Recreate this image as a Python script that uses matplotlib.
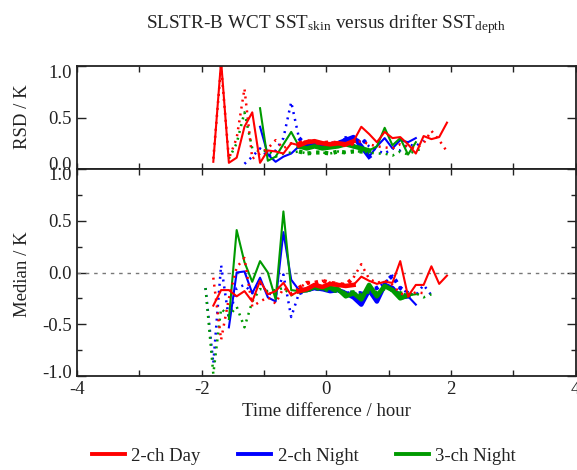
import numpy as np
import matplotlib
matplotlib.use("Agg")
import matplotlib.pyplot as plt
from matplotlib.lines import Line2D
from matplotlib.ticker import FixedLocator, MultipleLocator
import matplotlib.transforms as mtransforms

nan = np.nan

# ---------------- data ----------------
time_bins = [-1.9375, -1.8125, -1.6875, -1.5625, -1.4375, -1.3125, -1.1875, -1.0625,
             -0.9375, -0.8125, -0.6875, -0.5625, -0.4375, -0.3125, -0.1875, -0.0625,
             0.0625, 0.1875, 0.3125, 0.4375, 0.5625, 0.6875, 0.8125, 0.9375,
             1.0625, 1.1875, 1.3125, 1.4375, 1.5625, 1.6875, 1.8125, 1.9375]

series_names = ["2-ch Day", "2-ch Night", "3-ch Night"]

# RSD (top panel) - solid
rsd_day = [nan, 0.07, 1.05, 0.06, 0.11, 0.41, 0.55, 0.06, 0.18, 0.17, 0.15, 0.25,
           0.23, 0.26, 0.27, 0.25, 0.24, 0.25, 0.24, 0.27, 0.41, 0.34, 0.26, 0.36,
           0.30, 0.31, 0.24, 0.15, 0.32, 0.29, 0.31, 0.45]
rsd_night2 = [nan, nan, nan, nan, nan, nan, nan, 0.41, 0.14, 0.07, 0.12, 0.15,
              0.22, 0.24, 0.25, 0.23, 0.24, 0.25, 0.28, 0.31, 0.22, 0.12, 0.22, 0.30,
              0.20, 0.28, 0.26, 0.30, nan, nan, nan, nan]
rsd_night3 = [nan, nan, nan, nan, nan, nan, nan, 0.59, 0.08, 0.12, 0.24, 0.36,
              0.22, 0.20, 0.22, 0.20, 0.21, 0.22, 0.24, 0.22, 0.20, 0.18, 0.22, 0.40,
              0.23, 0.30, 0.14, 0.26, nan, nan, nan, nan]
# RSD (top panel) - dotted
rsd_day_alt = [nan, 0.10, 1.00, 0.10, 0.30, 0.78, 0.10, 0.15, 0.20, 0.28, 0.20, 0.25,
               0.25, 0.27, 0.26, 0.25, 0.26, 0.25, 0.23, 0.25, 0.27, 0.24, 0.22, 0.21,
               0.20, 0.24, 0.22, 0.20, 0.25, 0.37, 0.28, 0.17]
rsd_night2_alt = [nan, nan, nan, nan, nan, 0.05, 0.12, 0.20, 0.12, 0.18, 0.30, 0.65,
                  0.30, 0.22, 0.24, 0.22, 0.23, 0.24, 0.30, 0.22, 0.30, 0.22, 0.18, 0.15,
                  0.20, 0.18, 0.24, 0.22, 0.28, nan, nan, nan]
rsd_night3_alt = [nan, nan, nan, 0.10, 0.25, 0.55, 0.20, 0.17, 0.18, 0.12, 0.15, 0.16,
                  0.17, 0.15, 0.16, 0.16, 0.15, 0.17, 0.16, 0.17, 0.17, 0.16, 0.15, 0.15,
                  0.13, 0.17, 0.14, 0.18, 0.20, nan, nan, nan]

# Median (bottom panel) - solid
med_day = [nan, -0.32, -0.17, -0.17, -0.23, -0.18, -0.28, -0.08, -0.21, -0.18, -0.10, -0.22,
           -0.18, -0.16, -0.12, -0.14, -0.11, -0.12, -0.13, -0.12, -0.04, -0.08, -0.11, -0.09,
           -0.10, 0.11, -0.23, -0.12, -0.12, 0.06, -0.11, -0.03]
med_night2 = [nan, nan, nan, -0.53, 0.00, 0.01, -0.20, -0.05, -0.24, -0.28, 0.39, -0.07,
              -0.17, -0.17, -0.15, -0.16, -0.18, -0.17, -0.20, -0.24, -0.31, -0.17, -0.28, -0.12,
              -0.15, -0.24, -0.23, -0.31, nan, nan, nan, nan]
med_night3 = [nan, nan, nan, -0.45, 0.41, 0.10, -0.09, 0.11, 0.00, -0.26, 0.59, -0.17,
              -0.18, -0.17, -0.14, -0.15, -0.15, -0.16, -0.23, -0.20, -0.26, -0.12, -0.23, -0.13,
              -0.17, -0.25, -0.22, -0.21, nan, nan, nan, nan]
# Median (bottom panel) - dotted
med_day_alt = [nan, -0.05, -0.65, -0.25, 0.05, 0.14, -0.33, -0.28, -0.24, -0.30, -0.15, -0.20,
               -0.15, -0.10, -0.10, -0.08, -0.10, -0.11, -0.12, -0.05, 0.08, -0.06, -0.10, -0.08,
               -0.12, -0.20, -0.23, -0.19, -0.20, nan, nan, nan]
med_night2_alt = [-0.15, -0.88, 0.07, -0.45, -0.15, -0.12, -0.20, -0.10, -0.20, -0.22, -0.02, -0.43,
                  -0.20, -0.17, -0.15, -0.17, -0.16, -0.18, -0.19, -0.20, -0.20, -0.18, -0.15, -0.10,
                  -0.03, -0.15, -0.20, -0.22, -0.12, -0.22, nan, nan]
med_night3_alt = [-0.15, -0.98, -0.35, -0.42, -0.33, -0.53, -0.28, -0.16, -0.18, -0.17, -0.15, -0.22,
                  -0.18, -0.17, -0.15, -0.16, -0.17, -0.18, -0.20, -0.19, -0.22, -0.18, -0.20, -0.15,
                  -0.17, -0.20, -0.22, -0.20, -0.24, -0.21, nan, nan]

x_ticks = [-4, -2, 0, 2, 4]
rsd_ticks = [0.0, 0.5, 1.0]
med_ticks = [-1.0, -0.5, 0.0, 0.5, 1.0]

# ---------------- style ----------------
plt.rcParams["font.family"] = ["Liberation Serif", "DejaVu Serif"]
plt.rcParams["mathtext.fontset"] = "custom"
plt.rcParams["mathtext.rm"] = "Liberation Serif"
plt.rcParams["mathtext.it"] = "Liberation Serif:italic"

colors = {"2-ch Day": "#ff0000", "2-ch Night": "#0000ff", "3-ch Night": "#009a00"}
thick_top = {"2-ch Day": (-0.5, 0.45), "2-ch Night": (-0.5, 0.75), "3-ch Night": (-0.5, 0.75)}
thick_bot = {"2-ch Day": (-0.5, 0.45), "2-ch Night": (-0.5, 1.35), "3-ch Night": (-0.5, 1.35)}

W, H = 577, 470
fig = plt.figure(figsize=(W / 100, H / 100), dpi=100)
left = 77 / W
width = 498.5 / W
ax_top = fig.add_axes([left, 1 - 169 / H, width, (169 - 66) / H])
ax_bot = fig.add_axes([left, 1 - 376 / H, width, (376 - 169) / H])

x = np.array(time_bins)


def draw(ax, ys, color, rng, dotted):
    y = np.array(ys, dtype=float)
    if dotted:
        ax.plot(x, y, color=color, lw=1.8, ls=(0, (0.8, 2.0)), dash_capstyle="butt")
    else:
        ax.plot(x, y, color=color, lw=1.5, ls="-")
    m = (x >= rng[0]) & (x <= rng[1])
    yt = np.where(m, y, np.nan)
    if dotted:
        ax.plot(x, yt, color=color, lw=3.0, ls=(0, (0.8, 1.3)), dash_capstyle="butt")
    else:
        ax.plot(x, yt, color=color, lw=3.3, ls="-")


order = ["2-ch Night", "3-ch Night", "2-ch Day"]
top_solid = {"2-ch Day": rsd_day, "2-ch Night": rsd_night2, "3-ch Night": rsd_night3}
top_dot = {"2-ch Day": rsd_day_alt, "2-ch Night": rsd_night2_alt, "3-ch Night": rsd_night3_alt}
bot_solid = {"2-ch Day": med_day, "2-ch Night": med_night2, "3-ch Night": med_night3}
bot_dot = {"2-ch Day": med_day_alt, "2-ch Night": med_night2_alt, "3-ch Night": med_night3_alt}

ax_bot.axhline(0, color="#777777", lw=1.0, ls=(0, (2.5, 3.5)))

for name in order:
    c = colors[name]
    draw(ax_top, top_dot[name], c, thick_top[name], True)
    draw(ax_top, top_solid[name], c, thick_top[name], False)
    draw(ax_bot, bot_dot[name], c, thick_bot[name], True)
    draw(ax_bot, bot_solid[name], c, thick_bot[name], False)

for ax in (ax_top, ax_bot):
    ax.set_xlim(-4, 4)
    ax.xaxis.set_major_locator(FixedLocator(x_ticks))
    ax.xaxis.set_minor_locator(MultipleLocator(1))
    ax.tick_params(axis="both", which="both", direction="in", top=True, right=True,
                   width=1.0, labelsize=13.5, colors="#222222")
    ax.tick_params(axis="x", which="both", length=4.5)
    ax.tick_params(axis="y", which="major", length=6.5)
    ax.tick_params(axis="y", which="minor", length=3.8)
    for s in ax.spines.values():
        s.set_linewidth(1.3)
        s.set_color("#222222")

ax_top.set_ylim(0, 1.0)
ax_top.yaxis.set_major_locator(FixedLocator(rsd_ticks))
ax_top.set_yticklabels([f"{v:.1f}" for v in rsd_ticks])
ax_top.tick_params(axis="x", labelbottom=False)

ax_bot.set_ylim(-1.0, 1.0)
ax_bot.yaxis.set_major_locator(FixedLocator(med_ticks))
ax_bot.yaxis.set_minor_locator(MultipleLocator(0.25))
ax_bot.set_yticklabels([f"{v:.1f}" for v in med_ticks])
ax_bot.set_xticklabels([f"{v:d}" for v in x_ticks])


# nudge the edge y labels inward like the original
def nudge(lbl, dy_px):
    lbl.set_transform(lbl.get_transform() +
                      mtransforms.ScaledTranslation(0, dy_px / 100, fig.dpi_scale_trans))


tl = ax_top.get_yticklabels()
nudge(tl[0], 5)
nudge(tl[-1], -5)
bl = ax_bot.get_yticklabels()
nudge(bl[0], 5)
nudge(bl[-1], -5)

fig.text(326 / W, 1 - 411 / H, "Time difference / hour", ha="center", va="center",
         fontsize=13.5, color="#222222")
fig.text(23 / W, 1 - 117 / H, "RSD / K", rotation=90, ha="center", va="center",
         fontsize=13.5, color="#222222")
fig.text(23 / W, 1 - 274 / H, "Median / K", rotation=90, ha="center", va="center",
         fontsize=13.5, color="#222222")
fig.text(326 / W, 1 - 24 / H,
         r"SLSTR-B WCT SST$_{\mathrm{skin}}$ versus drifter SST$_{\mathrm{depth}}$",
         ha="center", va="center", fontsize=13.8, color="#222222")

handles = [Line2D([], [], color=colors[n], lw=2.8) for n in series_names]
fig.legend(handles, series_names, loc="center", bbox_to_anchor=(304 / W, 1 - 456 / H),
           ncol=3, frameon=False, fontsize=13.5, handlelength=1.75, handletextpad=0.35,
           columnspacing=2.0, labelcolor="#222222")

fig.savefig("out.png", dpi=100)
